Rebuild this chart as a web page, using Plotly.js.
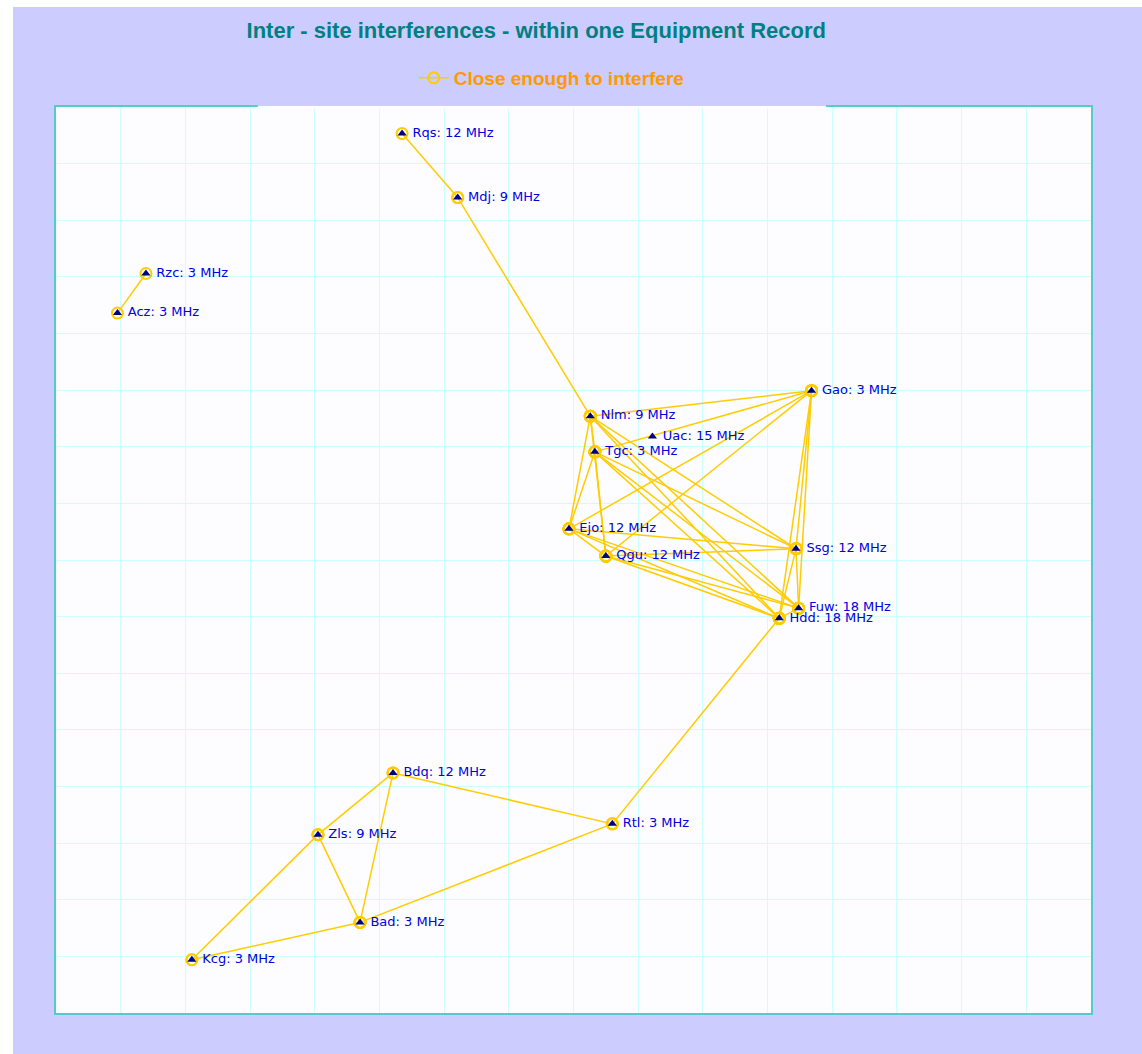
<!DOCTYPE html>
<html>
<head>
<meta charset="utf-8">
<script src="https://cdn.plot.ly/plotly-3.0.1.min.js"></script>
<style>
  html, body { margin: 0; padding: 0; background: #ffffff; }
  #chart { position: absolute; left: 13px; top: 7px; width: 1129px; height: 1047px; }
</style>
</head>
<body>
<div id="chart"></div>
<script>
// ---- Data (grid units: 16 x 16 grid) ----
const nodeNames = ["Rqs","Mdj","Rzc","Acz","Gao","Nlm","Uac","Tgc","Ejo","Qgu","Ssg","Fuw","Hdd","Bdq","Zls","Rtl","Bad","Kcg"];
const nodeX     = [5.35, 6.21, 1.39, 0.95, 11.68, 8.26, 9.22, 8.33, 7.93, 8.50, 11.44, 11.48, 11.18, 5.21, 4.05, 8.60, 4.70, 2.10];
const nodeY     = [15.53, 14.40, 13.06, 12.36, 10.99, 10.54, 10.18, 9.91, 8.55, 8.07, 8.20, 7.15, 6.97, 4.24, 3.15, 3.34, 1.60, 0.94];
const nodeFreqMHz = [12, 9, 3, 3, 3, 9, 15, 3, 12, 12, 12, 18, 18, 12, 9, 3, 3, 3];

const edgeFrom = ["Rqs","Mdj","Rzc",
  "Nlm","Nlm","Nlm","Nlm","Nlm","Nlm","Nlm",
  "Tgc","Tgc","Tgc","Tgc","Tgc","Tgc",
  "Ejo","Ejo","Ejo","Ejo","Ejo",
  "Qgu","Qgu","Qgu","Qgu",
  "Gao","Gao","Gao",
  "Ssg","Ssg",
  "Fuw",
  "Hdd","Rtl","Rtl","Bdq","Bdq","Zls","Zls","Kcg"];
const edgeTo = ["Mdj","Nlm","Acz",
  "Tgc","Ejo","Qgu","Gao","Ssg","Fuw","Hdd",
  "Ejo","Qgu","Gao","Ssg","Fuw","Hdd",
  "Qgu","Gao","Ssg","Fuw","Hdd",
  "Gao","Ssg","Fuw","Hdd",
  "Ssg","Fuw","Hdd",
  "Fuw","Hdd",
  "Hdd",
  "Rtl","Bdq","Bad","Zls","Bad","Bad","Kcg","Bad"];

const gridTicks = [0,1,2,3,4,5,6,7,8,9,10,11,12,13,14,15,16];

// ---- Build traces ----
const idx = {};
nodeNames.forEach((n, i) => { idx[n] = i; });
const ex = [], ey = [];
edgeFrom.forEach((f, k) => {
  const a = idx[f], b = idx[edgeTo[k]];
  ex.push(nodeX[a], nodeX[b], null);
  ey.push(nodeY[a], nodeY[b], null);
});
const labels = nodeNames.map((n, i) => n + ": " + nodeFreqMHz[i] + " MHz");

const edgeTrace = {
  type: "scatter", mode: "lines+markers", name: "Close enough to interfere",
  x: ex, y: ey, connectgaps: false,
  line: { color: "#FFCC00", width: 1.5 },
  marker: { symbol: "circle-open", size: 11, color: "#FFCC00", line: { width: 2, color: "#FFCC00" } },
  hoverinfo: "skip"
};
const nodeTrace = {
  type: "scatter", mode: "markers", showlegend: false,
  x: nodeX, y: nodeY,
  marker: { symbol: "triangle-up", size: 8, color: "#000080" },
  hoverinfo: "skip"
};
const labelTrace = {
  type: "scatter", mode: "markers+text", showlegend: false,
  x: nodeX, y: nodeY, text: labels, textposition: "middle right",
  textfont: { family: "DejaVu Sans", size: 13, color: "#0000E0" },
  marker: { size: 15, color: "rgba(0,0,0,0)" },
  hoverinfo: "skip"
};

const axisCommon = {
  range: [0, 16], tickvals: gridTicks, showticklabels: false, ticks: "",
  showgrid: true, gridcolor: "#CCFFFF", gridwidth: 1, zeroline: false,
  showline: true, mirror: true, linecolor: "#55CCCC", linewidth: 2, fixedrange: true
};

const layout = {
  width: 1129, height: 1047,
  margin: { l: 43, r: 51, t: 100, b: 41 },
  paper_bgcolor: "#CCCCFF", plot_bgcolor: "#FDFDFF",
  title: {
    text: "Inter - site interferences - within one Equipment Record",
    font: { family: "Liberation Sans", size: 22, color: "#008080", weight: "bold" },
    xref: "paper", x: 0.464, xanchor: "center",
    yref: "container", y: 0.978, yanchor: "middle"
  },
  showlegend: true,
  legend: {
    orientation: "h", x: 0.479, xanchor: "center", y: 1.032, yanchor: "middle",
    bgcolor: "rgba(0,0,0,0)", itemwidth: 30,
    font: { family: "Liberation Sans", size: 19, color: "#FF9900", weight: "bold" }
  },
  xaxis: Object.assign({}, axisCommon),
  yaxis: Object.assign({}, axisCommon),
  shapes: [{
    type: "line", xref: "paper", yref: "paper", x0: 0.195, x1: 0.744, y0: 1, y1: 1,
    line: { color: "#FDFDFF", width: 3 }, layer: "above"
  }]
};

Plotly.newPlot("chart", [edgeTrace, nodeTrace, labelTrace], layout, { displayModeBar: false, staticPlot: true });
</script>
</body>
</html>
